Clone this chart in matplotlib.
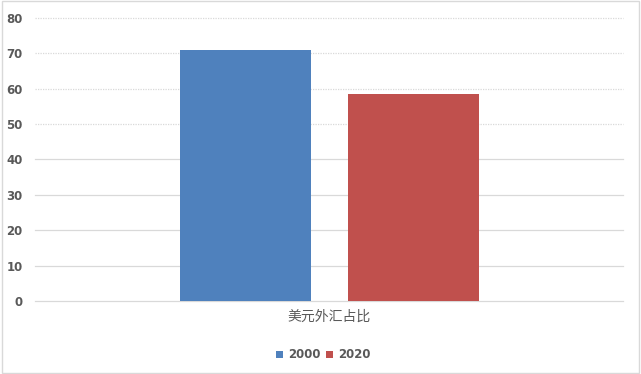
#!/usr/bin/env python3
"""Bar chart: share of USD in FX reserves, 2000 vs 2020."""

import matplotlib
matplotlib.use('Agg')
import matplotlib.pyplot as plt
from matplotlib.patches import Rectangle

plt.rcParams['font.family'] = ['Noto Sans CJK SC', 'DejaVu Sans']

category = '美元外汇占比'
years = ['2000', '2020']
values = [71.0, 58.5]
colors = ['#4F81BD', '#C0504D']
yticks = [0, 10, 20, 30, 40, 50, 60, 70, 80]


def main():
    fig = plt.figure(figsize=(6.41, 3.74), dpi=100)
    # outer chart border
    fig.patches.append(Rectangle((0.003, 0.004), 0.994, 0.992, transform=fig.transFigure,
                                 fill=False, edgecolor='#D9D9D9', linewidth=1))
    ax = fig.add_axes([0.0546, 0.1952, 0.9173, 0.7567])

    width = 0.446
    offsets = [-0.284, 0.286]
    for off, v, c, lab in zip(offsets, values, colors, years):
        ax.bar(off, v, width=width, color=c, label=lab, zorder=3)

    ax.set_xlim(-1, 1)
    ax.set_ylim(0, 80)
    ax.set_yticks(yticks)
    ax.set_yticklabels([str(t) for t in yticks], color='#595959',
                       fontsize=8.5, fontweight='semibold', family='DejaVu Sans')
    ax.set_xticks([0])
    ax.set_xticklabels([category], color='#595959', fontsize=10)
    ax.tick_params(axis='both', length=0)
    ax.tick_params(axis='y', pad=9)
    ax.tick_params(axis='x', pad=6)

    for t in yticks:
        ls = (0, (1, 1)) if t >= 50 else '-'
        ax.axhline(t, color='#D9D9D9', linewidth=0.9, linestyle=ls, zorder=1,
                   clip_on=False)

    for s in ax.spines.values():
        s.set_visible(False)

    leg = ax.legend(loc='upper center', bbox_to_anchor=(0.49, -0.13), ncol=2,
                    frameon=False, handlelength=0.6, handleheight=0.6,
                    handletextpad=0.4, columnspacing=0.5,
                    prop={'size': 8.5, 'weight': 'semibold', 'family': 'DejaVu Sans'})
    for t in leg.get_texts():
        t.set_color('#595959')

    fig.savefig('out.png', dpi=100)


if __name__ == '__main__':
    main()
